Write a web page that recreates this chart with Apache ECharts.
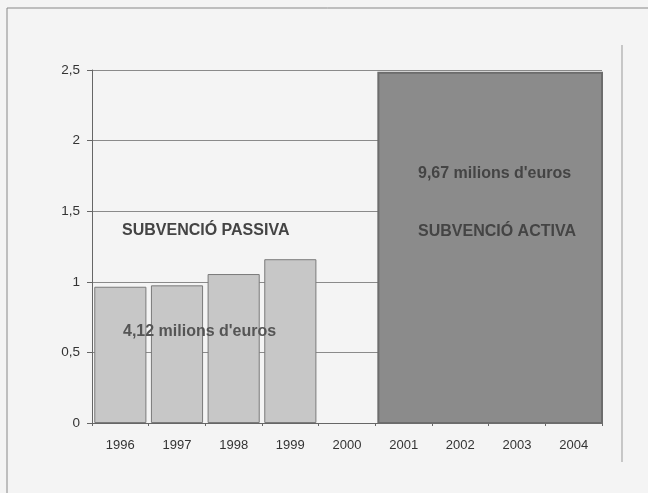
<!DOCTYPE html>
<html><head><meta charset="utf-8">
<script src="https://cdn.jsdelivr.net/npm/echarts@6/dist/echarts.min.js"></script>
<style>html,body{margin:0;padding:0;background:#f4f4f4;}#c{width:648px;height:493px;}</style>
</head><body><div id="c"></div>
<script>
const years = ['1996','1997','1998','1999','2000','2001','2002','2003','2004'];
const passiveValues = [0.965, 0.975, 1.055, 1.16, null, null, null, null, null];
const activeSpan = ['2001', '2004'];
const activeValue = 2.48;
const yTicks = [0, 0.5, 1, 1.5, 2, 2.5];
const labelPassive = 'SUBVENCIÓ PASSIVA';
const labelPassiveAmount = "4,12 milions d'euros";
const labelActive = 'SUBVENCIÓ ACTIVA';
const labelActiveAmount = "9,67 milions d'euros";

const chart = echarts.init(document.getElementById('c'), null, {renderer: 'canvas'});
const font = 'Liberation Sans, Arial, sans-serif';
const annFont = 'bold 16px Liberation Sans, Arial, sans-serif';
chart.setOption({
  backgroundColor: '#f4f4f4',
  animation: false,
  grid: {left: 92, right: 46, top: 70, bottom: 70},
  xAxis: {
    type: 'category', data: years, boundaryGap: true,
    axisLine: {lineStyle: {color: '#666', width: 1}},
    axisTick: {show: true, length: 3, lineStyle: {color: '#666'}},
    axisLabel: {color: '#333', fontSize: 13, fontFamily: font, margin: 16}
  },
  yAxis: {
    type: 'value', min: yTicks[0], max: yTicks[yTicks.length - 1], interval: 0.5,
    axisLine: {show: true, lineStyle: {color: '#666', width: 1}},
    axisTick: {show: true, length: 5, lineStyle: {color: '#666'}},
    splitLine: {lineStyle: {color: '#8a8a8a', width: 1}},
    axisLabel: {color: '#333', fontSize: 13.5, fontFamily: font, margin: 12,
      formatter: v => String(v).replace('.', ',')}
  },
  series: [
    {
      type: 'bar', data: passiveValues, barCategoryGap: '8%',
      itemStyle: {color: '#c7c7c7', borderColor: '#7a7a7a', borderWidth: 1},
      z: 3
    },
    {
      type: 'custom',
      data: [[years.indexOf(activeSpan[0]), years.indexOf(activeSpan[1]), activeValue]],
      encode: {x: [0, 1], y: 2},
      renderItem: function (params, api) {
        const s = api.coord([api.value(0), 0]);
        const e = api.coord([api.value(1), api.value(2)]);
        const bw = api.size([1, 0])[0];
        const x0 = s[0] - bw / 2 + 3;
        const x1 = e[0] + bw / 2;
        return {
          type: 'rect',
          shape: {x: x0, y: e[1], width: x1 - x0, height: s[1] - e[1]},
          style: {fill: '#8b8b8b', stroke: '#6c6c6c', lineWidth: 2}
        };
      },
      z: 4
    }
  ],
  graphic: [
    {type: 'line', shape: {x1: 7, y1: 8, x2: 648, y2: 8}, style: {stroke: '#888', lineWidth: 1}, z: 0},
    {type: 'line', shape: {x1: 7, y1: 8, x2: 7, y2: 493}, style: {stroke: '#888', lineWidth: 1}, z: 0},
    {type: 'line', shape: {x1: 622, y1: 45, x2: 622, y2: 462}, style: {stroke: '#999', lineWidth: 1}, z: 0},
    {type: 'text', x: 122, y: 231, z: 10,
      style: {text: labelPassive, fill: '#444', font: annFont, verticalAlign: 'middle'}},
    {type: 'text', x: 123, y: 332, z: 10,
      style: {text: labelPassiveAmount, fill: '#555', font: annFont, verticalAlign: 'middle'}},
    {type: 'text', x: 418, y: 174, z: 10,
      style: {text: labelActiveAmount, fill: '#444', font: annFont, verticalAlign: 'middle'}},
    {type: 'text', x: 418, y: 232, z: 10,
      style: {text: labelActive, fill: '#444', font: annFont, verticalAlign: 'middle'}}
  ]
});
</script></body></html>
